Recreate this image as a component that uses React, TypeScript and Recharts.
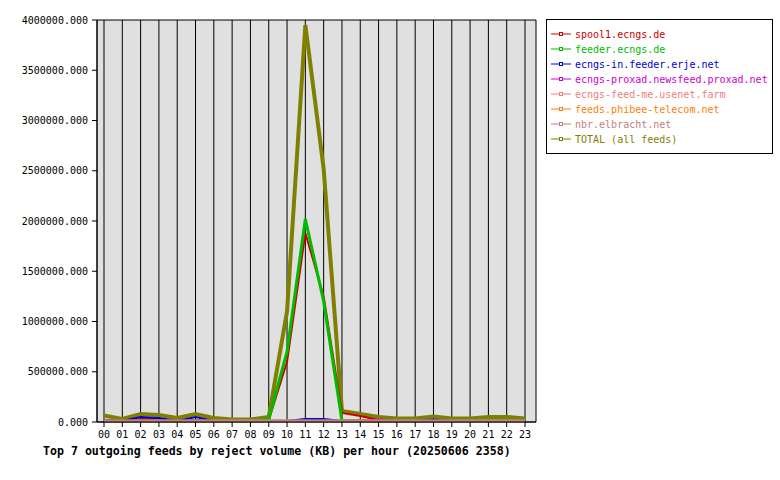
import React from 'react';
import { LineChart, Line, XAxis, YAxis, CartesianGrid } from 'recharts';

const hours = ['00','01','02','03','04','05','06','07','08','09','10','11','12','13','14','15','16','17','18','19','20','21','22','23'];

const spool1 = [10000, 5000, 30000, 30000, 10000, 20000, 10000, 5000, 5000, 20000, 600000, 1880000, 1250000, 90000, 60000, 20000, 10000, 10000, 10000, 10000, 10000, 10000, 10000, 10000];
const feeder = [10000, 5000, 10000, 10000, 5000, 10000, 5000, 5000, 5000, 25000, 700000, 2020000, 1200000, 12000, 12000, 12000, 12000, 12000, 12000, 12000, 12000, 12000, 12000, 12000];
const ecngsIn = [20000, 10000, 50000, 40000, 10000, 50000, 10000, 10000, 10000, 10000, 10000, 30000, 30000, 10000, 10000, 10000, 10000, 10000, 25000, 10000, 10000, 10000, 10000, 10000];
const proxad = [10000, 10000, 10000, 10000, 10000, 10000, 10000, 10000, 10000, 10000, 10000, 10000, 10000, 10000, 10000, 25000, 10000, 10000, 10000, 10000, 10000, 10000, 10000, 10000];
const feedMe = [8000, 8000, 8000, 8000, 8000, 8000, 8000, 8000, 8000, 8000, 8000, 8000, 8000, 8000, 8000, 8000, 8000, 8000, 8000, 8000, 8000, 8000, 8000, 8000];
const phibee = [8000, 8000, 8000, 8000, 8000, 8000, 8000, 8000, 8000, 8000, 8000, 8000, 8000, 8000, 8000, 8000, 8000, 8000, 8000, 8000, 8000, 8000, 8000, 8000];
const nbr = [12000, 12000, 12000, 12000, 12000, 12000, 12000, 12000, 12000, 12000, 12000, 12000, 12000, 12000, 12000, 12000, 12000, 12000, 12000, 12000, 12000, 12000, 12000, 12000];
const total = [65000, 30000, 80000, 70000, 40000, 80000, 40000, 25000, 25000, 50000, 1100000, 3950000, 2520000, 110000, 80000, 50000, 35000, 35000, 55000, 35000, 35000, 50000, 50000, 35000];

const yTicks = [0, 500000, 1000000, 1500000, 2000000, 2500000, 3000000, 3500000, 4000000];

const seriesDefs = [
  { key: 'total', name: 'TOTAL (all feeds)', color: '#808000', width: 4, values: total },
  { key: 'spool1', name: 'spool1.ecngs.de', color: '#cc0000', width: 2, values: spool1 },
  { key: 'feeder', name: 'feeder.ecngs.de', color: '#00bb00', width: 3, values: feeder },
  { key: 'ecngsIn', name: 'ecngs-in.feeder.erje.net', color: '#0000cc', width: 2, values: ecngsIn },
  { key: 'proxad', name: 'ecngs-proxad.newsfeed.proxad.net', color: '#cc00cc', width: 2, values: proxad },
  { key: 'feedMe', name: 'ecngs-feed-me.usenet.farm', color: '#f08080', width: 2, values: feedMe },
  { key: 'phibee', name: 'feeds.phibee-telecom.net', color: '#ff8000', width: 2, values: phibee },
  { key: 'nbr', name: 'nbr.elbracht.net', color: '#c08080', width: 3, values: nbr },
];

const legendOrder = ['spool1', 'feeder', 'ecngsIn', 'proxad', 'feedMe', 'phibee', 'nbr', 'total'];

const data = hours.map((h, i) => {
  const row: any = { hour: h };
  seriesDefs.forEach((s) => { row[s.key] = s.values[i]; });
  return row;
});

const FONT = '"DejaVu Sans Mono", monospace';

export default function App() {
  return (
    <div style={{ position: 'absolute', left: 0, top: 0, width: 780, height: 480, background: '#fff' }}>
      <LineChart width={780} height={480} data={data} margin={{ top: 20, right: 244, left: 0, bottom: 0 }}>
        <CartesianGrid stroke="#000" strokeWidth={1} fill="#e0e0e0" fillOpacity={1} />
        <XAxis
          dataKey="hour"
          height={58}
          padding={{ left: 7, right: 11 }}
          interval={0}
          tickSize={5}
          tickMargin={4}
          stroke="#000"
          axisLine={{ stroke: '#000' }}
          tickLine={{ stroke: '#000' }}
          tick={{ fill: '#000', fontFamily: FONT, fontSize: 10 }}
        />
        <YAxis
          yAxisId="l"
          width={97}
          domain={[0, 4000000]}
          ticks={yTicks}
          tickSize={5}
          tickMargin={4}
          stroke="#000"
          tickFormatter={(v: number) => v.toFixed(3)}
          tick={{ fill: '#000', fontFamily: FONT, fontSize: 10 }}
        />
        <YAxis yAxisId="r" orientation="right" width={0} tick={false} tickLine={false} stroke="#000" domain={[0, 4000000]} />
        {seriesDefs.map((s) => (
          <Line
            key={s.key}
            yAxisId="l"
            type="linear"
            dataKey={s.key}
            name={s.name}
            stroke={s.color}
            strokeWidth={s.width}
            dot={false}
            activeDot={false}
            isAnimationActive={false}
          />
        ))}
      </LineChart>
      <div
        style={{
          position: 'absolute', left: 546, top: 19, width: 225, height: 133,
          border: '1px solid #000', background: '#fff', fontFamily: FONT, fontSize: 10,
        }}
      >
        {legendOrder.map((k, i) => {
          const s = seriesDefs.find((d) => d.key === k)!;
          return (
            <div key={k} style={{ position: 'absolute', left: 4, top: 7 + i * 15, height: 14, display: 'flex', alignItems: 'center', whiteSpace: 'nowrap' }}>
              <svg width={22} height={8} style={{ marginRight: 2 }}>
                <line x1={0} y1={4} x2={20} y2={4} stroke={s.color} strokeWidth={1} />
                <rect x={8.5} y={2.5} width={3} height={3} fill="#fff" stroke={s.color} strokeWidth={1} />
              </svg>
              <span style={{ color: s.color }}>{s.name}</span>
            </div>
          );
        })}
      </div>
      <div style={{ position: 'absolute', left: 43, top: 444, fontFamily: FONT, fontSize: 11.6, fontWeight: 'bold', whiteSpace: 'nowrap', color: '#000' }}>
        Top 7 outgoing feeds by reject volume (KB) per hour (20250606 2358)
      </div>
    </div>
  );
}
